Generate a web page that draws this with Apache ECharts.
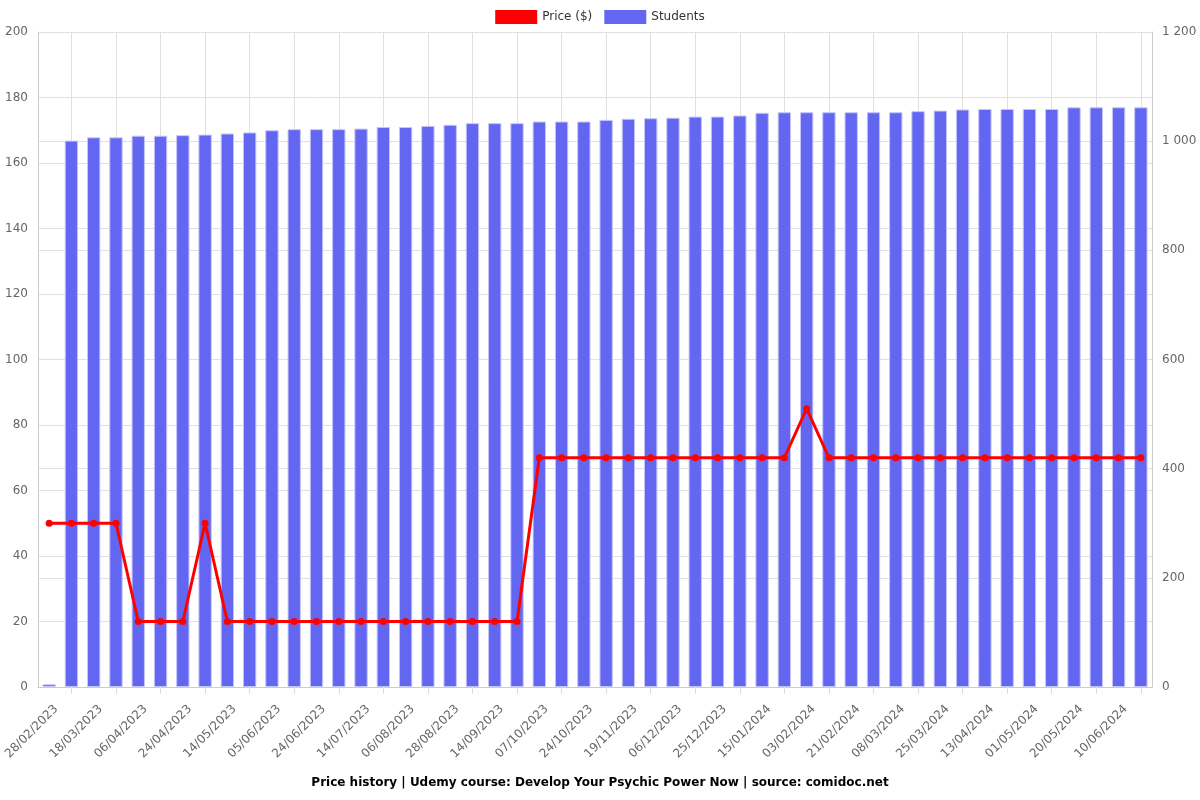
<!DOCTYPE html>
<html>
<head>
<meta charset="utf-8">
<script src="https://cdn.jsdelivr.net/npm/echarts@6/dist/echarts.min.js"></script>
<style>html,body{margin:0;padding:0;background:#fff}#c{width:1200px;height:800px}</style>
</head>
<body>
<div id="c"></div>
<script>
const dates = ["28/02/2023","09/03/2023","18/03/2023","27/03/2023","06/04/2023","15/04/2023","24/04/2023","04/05/2023","14/05/2023","25/05/2023",
"05/06/2023","15/06/2023","24/06/2023","04/07/2023","14/07/2023","25/07/2023","06/08/2023","17/08/2023","28/08/2023","05/09/2023",
"14/09/2023","25/09/2023","07/10/2023","15/10/2023","24/10/2023","02/11/2023","19/11/2023","27/11/2023","06/12/2023","15/12/2023",
"25/12/2023","04/01/2024","15/01/2024","24/01/2024","03/02/2024","12/02/2024","21/02/2024","29/02/2024","08/03/2024","16/03/2024",
"25/03/2024","03/04/2024","13/04/2024","22/04/2024","01/05/2024","10/05/2024","20/05/2024","30/05/2024","10/06/2024","20/06/2024"];
const price = [50,50,50,50,20,20,20,50,20,20,
20,20,20,20,20,20,20,20,20,20,
20,20,70,70,70,70,70,70,70,70,
70,70,70,70,85,70,70,70,70,70,
70,70,70,70,70,70,70,70,70,70];
const students = [5,1001,1007,1007,1010,1010,1011,1012,1014,1016,
1020,1022,1022,1022,1023,1026,1026,1028,1030,1033,
1033,1033,1036,1036,1036,1039,1041,1042,1043,1045,
1045,1047,1052,1053,1053,1053,1053,1053,1053,1055,
1056,1058,1059,1059,1059,1059,1062,1062,1062,1062];
const titleText = "Price history | Udemy course: Develop Your Psychic Power Now | source: comidoc.net";

const chart = echarts.init(document.getElementById('c'));
const gridColor = '#e0e0e0';
chart.setOption({
  animation: false,
  textStyle: {fontFamily: 'DejaVu Sans'},
  title: {text: titleText, left: 'center', bottom: 6,
    textStyle: {fontSize: 12, fontWeight: 'bold', color: '#000', fontFamily: 'DejaVu Sans'}},
  legend: {top: 5, left: 'center', itemWidth: 42, itemHeight: 14, itemGap: 12,
    textStyle: {fontSize: 12, color: '#333'},
    itemStyle: {borderWidth: 0},
    data: [{name: 'Price ($)', icon: 'rect'}, {name: 'Students', icon: 'rect'}]},
  grid: {left: 38, right: 48, top: 32, bottom: 113, containLabel: false, outerBoundsMode: 'none'},
  xAxis: {
    type: 'category', data: dates, boundaryGap: true,
    axisLine: {show: true, lineStyle: {color: '#ccc'}},
    axisTick: {show: true, alignWithLabel: true, interval: (i) => i % 2 === 1, length: 7, lineStyle: {color: '#ddd'}},
    splitLine: {show: true, alignWithLabel: true, interval: (i) => i % 2 === 1, lineStyle: {color: gridColor}},
    axisLabel: {interval: (i) => i % 2 === 0, rotate: 45, fontSize: 12, color: '#666', margin: 13,
      align: 'right', verticalAlign: 'top', padding: [4, 0, 0, 0]}
  },
  yAxis: [
    {type: 'value', min: 0, max: 200, interval: 20, position: 'left',
     axisLine: {show: true, lineStyle: {color: '#ccc'}}, axisTick: {show: false},
     axisLabel: {fontSize: 12, color: '#666', margin: 10},
     splitLine: {show: true, lineStyle: {color: gridColor}}},
    {type: 'value', min: 0, max: 1200, interval: 200, position: 'right',
     axisLine: {show: true, lineStyle: {color: '#ccc'}}, axisTick: {show: false},
     axisLabel: {fontSize: 12, color: '#666', margin: 10,
       formatter: (v) => String(v).replace(/\B(?=(\d{3})+(?!\d))/g, ' ')},
     splitLine: {show: true, lineStyle: {color: gridColor}}}
  ],
  series: [
    {name: 'Price ($)', type: 'line', yAxisIndex: 0, data: price, z: 5,
     symbol: 'circle', symbolSize: 7, showSymbol: true,
     lineStyle: {color: '#ff0000', width: 3}, itemStyle: {color: '#ff0000'}},
    {name: 'Students', type: 'bar', yAxisIndex: 1, data: students, barCategoryGap: '40%',
     itemStyle: {color: '#6366f1', borderColor: '#c5c6fa', borderWidth: 1}}
  ]
});
</script>
</body>
</html>
